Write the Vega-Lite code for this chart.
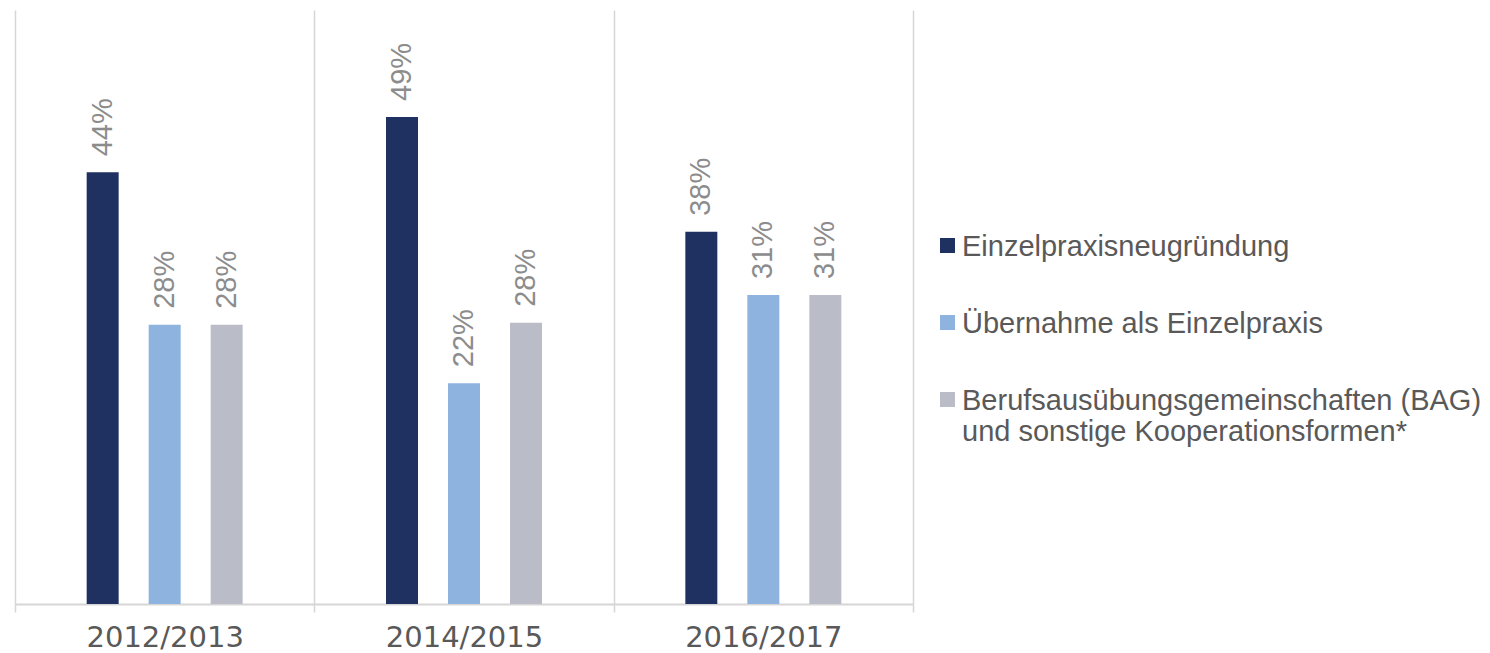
{
  "$schema": "https://vega.github.io/schema/vega-lite/v6.json",
  "width": 898,
  "height": 594,
  "padding": {"left": 15, "top": 10, "right": 577, "bottom": 49},
  "autosize": {"type": "none"},
  "config": {"view": {"stroke": null}, "font": "Liberation Sans"},
  "data": {
    "values": [
      {"year": "2012/2013", "cat": "Einzelpraxisneugründung", "value": 0.436},
      {"year": "2012/2013", "cat": "Übernahme als Einzelpraxis", "value": 0.282},
      {"year": "2012/2013", "cat": "Berufsausübungsgemeinschaften (BAG) und sonstige Kooperationsformen*", "value": 0.282},
      {"year": "2014/2015", "cat": "Einzelpraxisneugründung", "value": 0.492},
      {"year": "2014/2015", "cat": "Übernahme als Einzelpraxis", "value": 0.223},
      {"year": "2014/2015", "cat": "Berufsausübungsgemeinschaften (BAG) und sonstige Kooperationsformen*", "value": 0.284},
      {"year": "2016/2017", "cat": "Einzelpraxisneugründung", "value": 0.376},
      {"year": "2016/2017", "cat": "Übernahme als Einzelpraxis", "value": 0.312},
      {"year": "2016/2017", "cat": "Berufsausübungsgemeinschaften (BAG) und sonstige Kooperationsformen*", "value": 0.312}
    ]
  },
  "encoding": {
    "x": {
      "field": "year", "type": "nominal", "sort": null,
      "scale": {"paddingInner": 0, "paddingOuter": 0},
      "axis": {
        "title": null, "labelAngle": 0, "tickBand": "extent", "grid": true,
        "gridColor": "#d6d6d6", "gridWidth": 1.5,
        "domainColor": "#d6d6d6", "domainWidth": 2,
        "tickColor": "#d6d6d6", "tickSize": 8, "tickWidth": 1.5,
        "labelFont": "DejaVu Sans", "labelFontSize": 29, "labelColor": "#595959",
        "labelPadding": 11
      }
    },
    "xOffset": {
      "field": "cat", "type": "nominal", "sort": null,
      "scale": {
        "domain": ["_a", "Einzelpraxisneugründung", "Übernahme als Einzelpraxis", "Berufsausübungsgemeinschaften (BAG) und sonstige Kooperationsformen*", "_b"],
        "paddingInner": 0.484, "paddingOuter": 0.156
      }
    },
    "y": {"field": "value", "type": "quantitative", "scale": {"domain": [0, 0.6]}, "axis": null}
  },
  "layer": [
    {
      "mark": {"type": "bar"},
      "encoding": {
        "color": {
          "field": "cat", "type": "nominal", "sort": null,
          "scale": {
            "domain": ["Einzelpraxisneugründung", "Übernahme als Einzelpraxis", "Berufsausübungsgemeinschaften (BAG) und sonstige Kooperationsformen*"],
            "range": ["#1f3160", "#8db3de", "#babcc7"]
          },
          "legend": {
            "title": null, "orient": "none", "legendX": 918, "legendY": 221,
            "symbolType": "square", "symbolSize": 225, "symbolStrokeWidth": 0,
            "labelFont": "Liberation Sans", "labelFontSize": 29, "labelColor": "#595959",
            "labelLimit": 0, "rowPadding": 46, "labelOffset": 0,
            "labelBaseline": "alphabetic",
            "labelExpr": "datum.label == 'Berufsausübungsgemeinschaften (BAG) und sonstige Kooperationsformen*' ? ['Berufsausübungsgemeinschaften (BAG)', 'und sonstige Kooperationsformen*'] : datum.label",
            "encode": {"labels": {"update": {"dy": {"value": 10}}}}
          }
        }
      }
    },
    {
      "mark": {"type": "text", "angle": 270, "align": "left", "baseline": "middle", "dx": 16, "fontSize": 29, "color": "#8c8c8c", "font": "Liberation Sans"},
      "encoding": {"text": {"field": "value", "type": "quantitative", "format": ".0%"}}
    }
  ]
}
